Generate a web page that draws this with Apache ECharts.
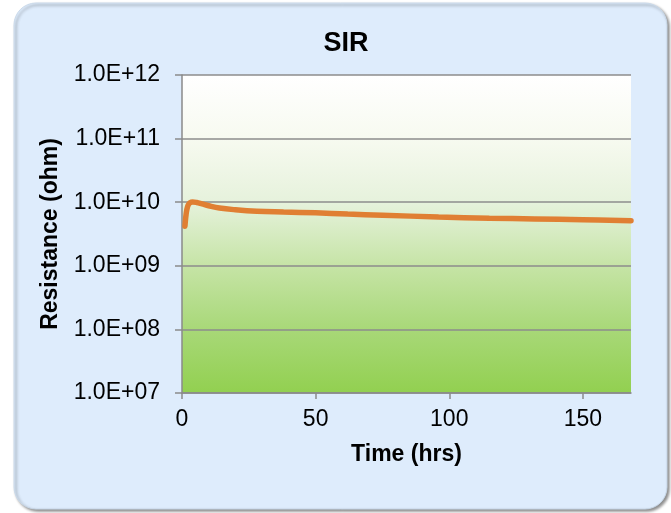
<!DOCTYPE html>
<html>
<head>
<meta charset="utf-8">
<script src="https://cdn.jsdelivr.net/npm/echarts@6/dist/echarts.min.js"></script>
<style>
html,body{margin:0;padding:0;background:#ffffff;}
#chart{width:671px;height:513px;}
</style>
</head>
<body>
<div id="chart"></div>
<script>
const chartTitle = 'SIR';
const xAxisName = 'Time (hrs)';
const yAxisName = 'Resistance (ohm)';
const xTicks = [0, 50, 100, 150];
const timeHrs = [1.1, 1.4, 1.8, 2.3, 3.0, 4.0, 5.5, 7.5, 10, 14, 20, 28, 38, 50, 62, 75, 96, 115, 132, 150, 168];
const resistance = [4.2e9, 5.8e9, 7.6e9, 9.0e9, 9.8e9, 1.01e10, 9.9e9, 9.4e9, 8.8e9, 8.1e9, 7.6e9, 7.2e9, 7.0e9, 6.8e9, 6.5e9, 6.25e9, 5.85e9, 5.6e9, 5.45e9, 5.3e9, 5.1e9];

const seriesData = timeHrs.map((t, i) => [t, resistance[i]]);

function sci(v) {
  const e = Math.round(Math.log10(v));
  return '1.0E+' + String(e).padStart(2, '0');
}

const chart = echarts.init(document.getElementById('chart'), null, {renderer: 'canvas'});
const font = 'Liberation Sans, Arial, sans-serif';
chart.setOption({
  animation: false,
  graphic: [{
    type: 'rect',
    z: -100,
    shape: {x: 14, y: 3, width: 653, height: 506, r: 22},
    style: {
      fill: '#deecfc',
      stroke: '#c9d9ea',
      lineWidth: 1,
      shadowColor: 'rgba(0,0,0,0.45)',
      shadowBlur: 3,
      shadowOffsetX: 2,
      shadowOffsetY: 2
    },
    silent: true
  }],
  title: {
    text: chartTitle,
    left: 341,
    textAlign: 'center',
    top: 25,
    textStyle: {fontFamily: font, fontSize: 27, fontWeight: 'bold', color: '#000'}
  },
  grid: {
    left: 182, right: 40, top: 75, bottom: 120,
    show: true,
    borderWidth: 0,
    backgroundColor: {
      type: 'linear', x: 0, y: 0, x2: 0, y2: 1,
      colorStops: [
        {offset: 0, color: '#ffffff'},
        {offset: 0.2, color: '#f7faf0'},
        {offset: 0.4, color: '#e6f2dc'},
        {offset: 0.6, color: '#c6e4a6'},
        {offset: 0.8, color: '#a8d878'},
        {offset: 1, color: '#92d050'}
      ]
    }
  },
  xAxis: {
    type: 'value',
    min: 0, max: 168,
    name: xAxisName,
    nameLocation: 'middle',
    nameGap: 50,
    nameTextStyle: {fontFamily: font, fontSize: 23, fontWeight: 'bold', color: '#000'},
    axisLine: {show: true, lineStyle: {color: '#8a8a8a', width: 1.5}},
    axisTick: {show: true, length: 6, customValues: xTicks, lineStyle: {color: '#8a8a8a', width: 1.5}},
    axisLabel: {customValues: xTicks, margin: 15, fontFamily: font, fontSize: 23, color: '#000'},
    splitLine: {show: false}
  },
  yAxis: {
    type: 'log',
    logBase: 10,
    min: 1e7, max: 1e12,
    name: yAxisName,
    nameLocation: 'middle',
    nameGap: 120,
    nameTextStyle: {fontFamily: font, fontSize: 23, fontWeight: 'bold', color: '#000'},
    axisLine: {show: true, lineStyle: {color: '#8a8a8a', width: 1.5}},
    axisTick: {show: true, length: 7, lineStyle: {color: '#8a8a8a', width: 1.5}},
    axisLabel: {margin: 22, fontFamily: font, fontSize: 23, color: '#000', formatter: sci},
    splitLine: {show: true, lineStyle: {color: '#8c8c8c', width: 1.5}}
  },
  series: [{
    type: 'line',
    data: seriesData,
    smooth: 0.4,
    showSymbol: false,
    clip: false,
    lineStyle: {color: '#e07f33', width: 5.5, cap: 'round'}
  }]
});
</script>
</body>
</html>
